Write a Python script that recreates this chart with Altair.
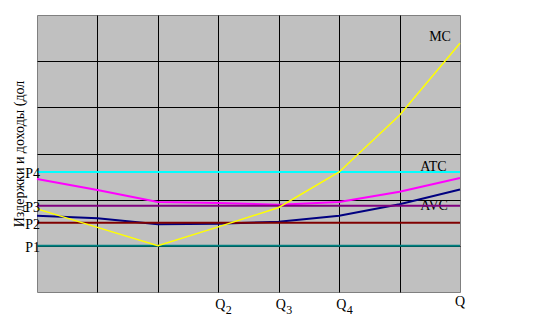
import altair as alt
import pandas as pd

# ---- data ----
q = [0, 1, 2, 3, 4, 5, 6, 7]
mc = [1.80, 1.40, 1.00, 1.41, 1.83, 2.60, 3.83, 5.39]
atc = [2.45, 2.21, 1.95, 1.93, 1.89, 1.95, 2.17, 2.47]
avc = [1.65, 1.60, 1.47, 1.48, 1.52, 1.65, 1.90, 2.22]

p_names = ["P1", "P2", "P3", "P4"]
p_levels = [1.00, 1.50, 1.87, 2.60]
p_colors = ["#008080", "#800000", "#800080", "#00FFFF"]

curve_names = ["MC", "ATC", "AVC"]
curve_label_x = [6.85, 6.78, 6.80]
curve_label_y = [5.44, 2.62, 1.78]

q_ticks = [3, 4, 5]
q_subs = ["2", "3", "4"]
q_last = [7]

y_title = "Издержки и доходы (дол"

FONT = "Liberation Serif"

# ---- tables ----
curves = pd.DataFrame({"q": q * 3,
                       "v": mc + atc + avc,
                       "curve": ["MC"] * 8 + ["ATC"] * 8 + ["AVC"] * 8})
levels = pd.DataFrame({"name": p_names, "v": p_levels, "color": p_colors})
clabels = pd.DataFrame({"name": curve_names, "x": curve_label_x, "y": curve_label_y})
qlab = pd.DataFrame({"x": q_ticks, "sub": q_subs, "y": [0] * 3})
qlast = pd.DataFrame({"x": q_last, "t": ["Q"], "y": [0]})

xs = alt.Scale(domain=[0, 7], nice=False, zero=False)
ys = alt.Scale(domain=[0, 6], nice=False, zero=False)

xaxis = alt.Axis(values=[1, 2, 3, 4, 5, 6], grid=True, gridColor="black",
                 gridOpacity=1, gridWidth=1, labels=False, ticks=False,
                 domain=False, title=None)
yaxis = alt.Axis(values=[1, 2, 3, 4, 5], grid=True, gridColor="black",
                 gridOpacity=1, gridWidth=1, labels=False, ticks=False,
                 domain=False, title=y_title, titleFont=FONT,
                 titleFontSize=14, titleFontWeight="normal",
                 titleColor="black", titlePadding=11)


def X(field):
    return alt.X(field, type="quantitative", scale=xs, axis=xaxis)


def Y(field):
    return alt.Y(field, type="quantitative", scale=ys, axis=yaxis)


base_lines = []
for name, col, w in [("ATC", "#FF00FF", 2), ("AVC", "#000080", 2)]:
    base_lines.append(
        alt.Chart(curves).transform_filter(alt.datum.curve == name)
        .mark_line(color=col, strokeWidth=w)
        .encode(x=X("q"), y=Y("v"))
    )

rules = alt.Chart(levels).mark_rule(strokeWidth=2).encode(
    y=Y("v"), color=alt.Color("color:N", scale=None)
)

mc_line = (alt.Chart(curves).transform_filter(alt.datum.curve == "MC")
           .mark_line(color="#FFFF00", strokeWidth=1.5)
           .encode(x=X("q"), y=Y("v")))

curve_text = alt.Chart(clabels).mark_text(
    font=FONT, fontSize=14, align="right", baseline="alphabetic", color="black"
).encode(x=X("x"), y=Y("y"), text="name:N")

p_text = alt.Chart(levels).mark_text(
    font=FONT, fontSize=14, align="right", baseline="middle", color="black",
    dx=3, dy=2
).encode(x=alt.X("zero:Q", scale=xs, axis=xaxis), y=Y("v"), text="name:N")

q_text = alt.Chart(qlab).mark_text(
    font=FONT, fontSize=14, align="left", baseline="alphabetic", color="black",
    dx=-3, dy=17
).encode(x=X("x"), y=Y("y"), text=alt.value("Q"))

q_sub = alt.Chart(qlab).mark_text(
    font=FONT, fontSize=12, align="left", baseline="alphabetic", color="black",
    dx=7.5, dy=22
).encode(x=X("x"), y=Y("y"), text="sub:N")

q_end = alt.Chart(qlast).mark_text(
    font=FONT, fontSize=14, align="center", baseline="alphabetic", color="black",
    dy=14
).encode(x=X("x"), y=Y("y"), text="t:N")

chart = alt.layer(
    curve_text, *base_lines, rules, mc_line, p_text.transform_calculate(zero="0"),
    q_text, q_sub, q_end
).properties(
    width=423, height=277,
    autosize=alt.AutoSizeParams(type="none"),
    padding={"left": 37, "top": 15, "right": 75, "bottom": 38},
    background="white",
).configure_view(
    fill="#C0C0C0", stroke="#808080", strokeWidth=1
)

chart.save("out.html", embed_options={"renderer": "svg", "actions": False})
